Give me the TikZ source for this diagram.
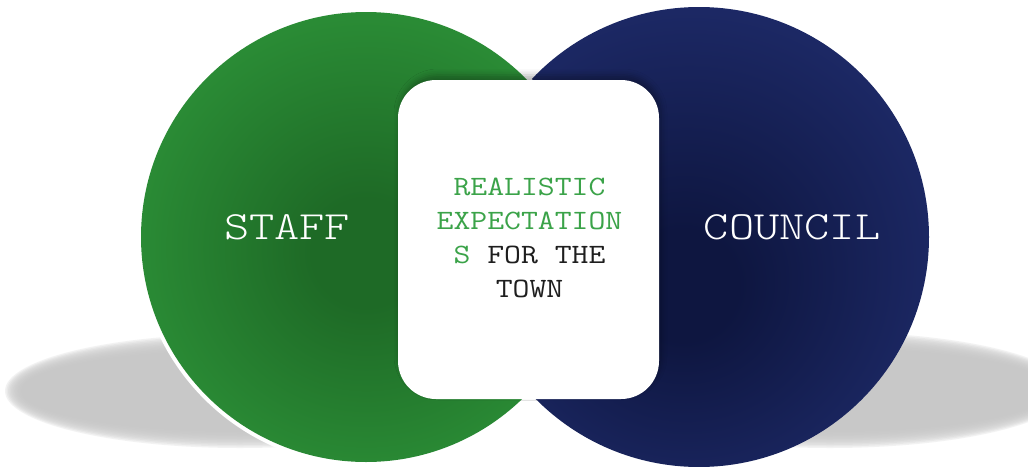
\documentclass[tikz,border=0pt]{standalone}
\usepackage{fontspec}
\newfontfamily\courbig[FakeStretch=1.2]{Latin Modern Mono Light}
\newfontfamily\courmid[FakeStretch=1.17]{Latin Modern Mono}
\usetikzlibrary{shadows.blur}
\definecolor{gedge}{RGB}{46,150,58}
\definecolor{gdark}{RGB}{30,106,38}
\definecolor{bedge}{RGB}{31,44,108}
\definecolor{bdark}{RGB}{14,22,64}
\definecolor{tgreen}{RGB}{59,163,73}
\definecolor{tdark}{RGB}{30,30,30}
\definecolor{shadowgray}{RGB}{200,200,200}
\pgfdeclareradialshading{greenshade}{\pgfpoint{0bp}{-2bp}}{color(0bp)=(gdark); color(6bp)=(gdark); color(32bp)=(gedge); color(50bp)=(gedge)}
\pgfdeclareradialshading{blueshade}{\pgfpoint{-2bp}{-6bp}}{color(0bp)=(bdark); color(6bp)=(bdark); color(32bp)=(bedge); color(50bp)=(bedge)}
\tikzset{
  venn/.style={circle, minimum size=#1, inner sep=0pt},
  bigtext/.style={font=\courbig\fontsize{40}{40}\selectfont, text=white, inner sep=0pt},
  midtext/.style={font=\courmid\fontsize{28}{34}\selectfont, text=tdark, align=center, inner sep=0pt},
  centerbox/.style={fill=white, rounded corners=38pt, minimum width=261pt, minimum height=319pt, inner sep=0pt,
    blur shadow={shadow xshift=2pt, shadow yshift=5pt, shadow blur radius=6pt, shadow opacity=30}},
  groundshadow/.style={fill=shadowgray, fill opacity=0.22}
}
\begin{document}
\begin{tikzpicture}[x=1pt,y=-1pt]
\useasboundingbox (0,0) rectangle (1028,466);
\fill[white] (0,0) rectangle (1028,466);
% ground shadows (soft edges by stacking)
\foreach \k in {0,...,13}{
  \fill[groundshadow] (240,391) ellipse [x radius={235pt-1.5pt*\k}, y radius={57pt-1.5pt*\k}];
  \fill[groundshadow] (830,390) ellipse [x radius={238pt-1.5pt*\k}, y radius={58pt-1.5pt*\k}];
}
% circles
\node[venn=460pt, shade, shading=blueshade] (council) at (699,237) {};
\node[venn=450pt, draw=white, line width=8pt] (halo) at (366,237) {};
\node[venn=450pt, shade, shading=greenshade] (staff) at (366,237) {};
% centre box
\node[centerbox] (box) at (528.5,239.5) {};
% texts
\node[bigtext] (stafflabel) at (287,227) {STAFF};
\node[bigtext] (councillabel) at (792,227) {COUNCIL};
\node[midtext] (goal) at (529.5,238) {\textcolor{tgreen}{REALISTIC}\\\textcolor{tgreen}{EXPECTATION}\\\textcolor{tgreen}{S} FOR THE\\TOWN};
\end{tikzpicture}
\end{document}
